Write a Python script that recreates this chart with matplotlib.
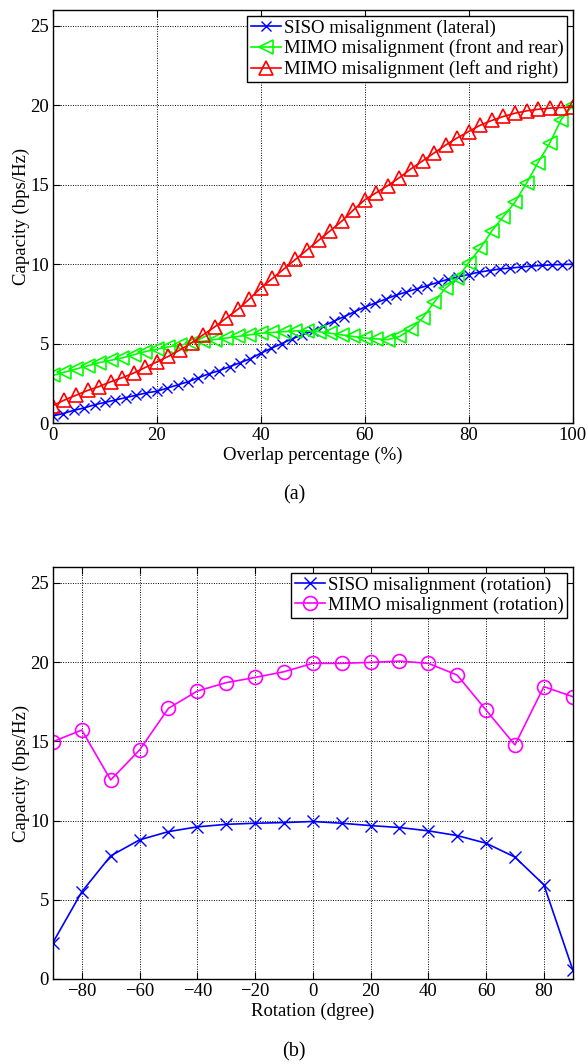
import matplotlib
matplotlib.use('Agg')
from matplotlib import pyplot as plt
import numpy as np

plt.rcParams['font.family'] = ['Liberation Serif', 'DejaVu Serif']
plt.rcParams['mathtext.fontset'] = 'stix'

# (a) capacity vs overlap percentage
overlap_siso = np.arange(0, 101, 2)
cap_siso_lateral = [0.45, 0.6, 0.8, 0.95, 1.15, 1.3, 1.45, 1.6, 1.75, 1.9,
                    2.0, 2.2, 2.4, 2.6, 2.85, 3.1, 3.3, 3.55, 3.8, 4.05,
                    4.4, 4.7, 5.0, 5.3, 5.55, 5.8, 6.1, 6.4, 6.7, 7.0,
                    7.3, 7.55, 7.8, 8.05, 8.25, 8.45, 8.65, 8.85, 9.05, 9.2,
                    9.35, 9.5, 9.6, 9.7, 9.75, 9.82, 9.88, 9.92, 9.96, 9.98,
                    10.0]

overlap_mimo = np.linspace(0, 100, 46)
cap_mimo_front_rear = [3.0, 3.2, 3.4, 3.6, 3.8, 3.95, 4.1, 4.3, 4.5, 4.65,
                       4.8, 4.9, 5.05, 5.15, 5.25, 5.35, 5.45, 5.55, 5.65, 5.7,
                       5.75, 5.8, 5.8, 5.75, 5.65, 5.55, 5.45, 5.35, 5.3, 5.25,
                       5.45, 5.9, 6.6, 7.6, 8.5, 9.1, 10.1, 11.0, 12.1, 13.0,
                       13.9, 15.1, 16.4, 17.6, 19.1, 20.0]
cap_mimo_left_right = [1.1, 1.45, 1.75, 2.05, 2.3, 2.6, 2.85, 3.15, 3.5, 3.85,
                       4.2, 4.6, 5.05, 5.55, 6.05, 6.6, 7.15, 7.8, 8.5, 9.1,
                       9.7, 10.3, 10.9, 11.5, 12.1, 12.7, 13.4, 14.05, 14.5, 14.95,
                       15.45, 16.0, 16.5, 17.0, 17.5, 17.95, 18.35, 18.75, 19.05, 19.3,
                       19.5, 19.65, 19.75, 19.82, 19.86, 19.9]

# (b) capacity vs rotation angle
rotation = np.arange(-90, 91, 10)
cap_siso_rot = [2.3, 5.5, 7.77, 8.78, 9.3, 9.6, 9.76, 9.83, 9.87, 9.94,
                9.83, 9.68, 9.56, 9.35, 9.05, 8.57, 7.69, 5.95, 0.59]
cap_mimo_rot = [14.98, 15.71, 12.56, 14.45, 17.08, 18.17, 18.7, 19.03, 19.39, 19.92,
                19.92, 19.98, 20.06, 19.92, 19.18, 16.97, 14.77, 18.45, 17.82]

tick_fs = 13.5
label_fs = 13.5
legend_fs = 13.5


def style_axes(ax):
    ax.set_ylim(0, 26)
    ax.set_yticks([0, 5, 10, 15, 20, 25])
    ax.grid(True, color='black', linestyle=(0, (1, 1.5)), linewidth=0.7)
    ax.tick_params(direction='in', length=5, width=0.8, top=True, right=True,
                   labelsize=tick_fs, pad=3)
    for s in ax.spines.values():
        s.set_linewidth(1.0)
    ax.set_ylabel('Capacity (bps/Hz)', fontsize=label_fs, labelpad=0)


def add_legend(ax):
    leg = ax.legend(loc='upper right', fontsize=legend_fs, fancybox=False,
                    framealpha=1, edgecolor='black', borderpad=0.2,
                    labelspacing=0.15, handlelength=1.6, handletextpad=0.15,
                    borderaxespad=0.3)
    leg.get_frame().set_linewidth(1.0)


fig = plt.figure(figsize=(5.88, 10.64), dpi=100)

ax1 = fig.add_axes([0.090, 0.6024, 0.884, 0.3882])
ax1.plot(overlap_siso, cap_siso_lateral, color='blue', marker='x', markersize=7,
         markeredgewidth=1.0, linewidth=1.2, label='SISO misalignment (lateral)')
ax1.plot(overlap_mimo, cap_mimo_front_rear, color='#00ff00', marker='<', markersize=10,
         markerfacecolor='none', markeredgewidth=1.2, linewidth=1.2,
         label='MIMO misalignment (front and rear)')
ax1.plot(overlap_mimo, cap_mimo_left_right, color='red', marker='^', markersize=10,
         markerfacecolor='none', markeredgewidth=1.2, linewidth=1.2,
         label='MIMO misalignment (left and right)')
ax1.set_xlim(0, 100)
ax1.set_xticks([0, 20, 40, 60, 80, 100])
style_axes(ax1)
ax1.set_xlabel('Overlap percentage (%)', fontsize=label_fs, labelpad=2)
add_legend(ax1)
fig.text(0.5, 0.5345, '(a)', ha='center', va='center', fontsize=14.5)

ax2 = fig.add_axes([0.090, 0.0799, 0.884, 0.3872])
ax2.plot(rotation, cap_siso_rot, color='blue', marker='x', markersize=8,
         markeredgewidth=1.0, linewidth=1.2, label='SISO misalignment (rotation)')
ax2.plot(rotation, cap_mimo_rot, color='magenta', marker='o', markersize=10,
         markerfacecolor='none', markeredgewidth=1.2, linewidth=1.2,
         label='MIMO misalignment (rotation)')
ax2.set_xlim(-90, 90)
ax2.set_xticks([-80, -60, -40, -20, 0, 20, 40, 60, 80])
ax2.set_xticklabels(['\u221280', '\u221260', '\u221240', '\u221220', '0',
                     '20', '40', '60', '80'])
style_axes(ax2)
ax2.set_xlabel('Rotation (dgree)', fontsize=label_fs, labelpad=2)
add_legend(ax2)
fig.text(0.5, 0.0113, '(b)', ha='center', va='center', fontsize=14.5)

fig.savefig('out.png', dpi=100)
